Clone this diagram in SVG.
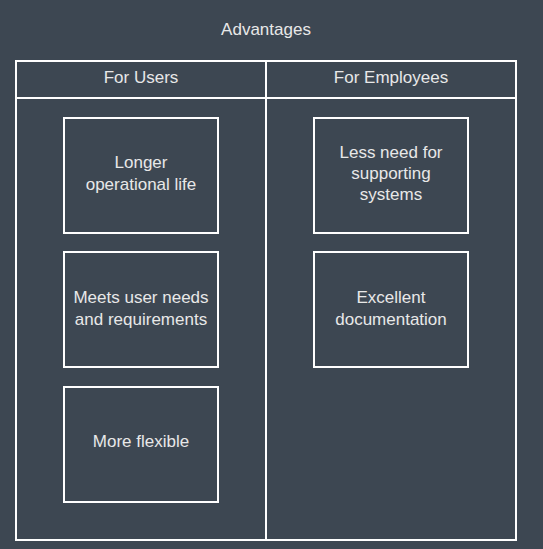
<svg xmlns="http://www.w3.org/2000/svg" width="543" height="549" viewBox="0 0 543 549">
<style>
.ln{fill:none;stroke:#ffffff;stroke-width:2}
.t{font-family:"Liberation Sans",Arial,sans-serif;font-size:17px;fill:#e8e8e8;text-anchor:middle;dominant-baseline:central}
</style>
<rect x="0" y="0" width="543" height="549" fill="#3d4752"/>
<g id="title"><text class="t" x="266" y="29">Advantages</text></g>
<g id="table">
<rect class="ln" x="16" y="61" width="500" height="479"/>
<line class="ln" x1="16" y1="98" x2="516" y2="98"/>
<line class="ln" x1="266" y1="61" x2="266" y2="540"/>
<text class="t" x="141" y="77">For Users</text>
<text class="t" x="391" y="77">For Employees</text>
</g>
<g id="n1"><rect class="ln" x="64" y="118" width="154" height="115"/><text class="t" x="141" y="162">Longer</text><text class="t" x="141" y="184">operational life</text></g>
<g id="n2"><rect class="ln" x="64" y="252" width="154" height="115"/><text class="t" x="141" y="297">Meets user needs</text><text class="t" x="141" y="319">and requirements</text></g>
<g id="n3"><rect class="ln" x="64" y="387" width="154" height="115"/><text class="t" x="141" y="441">More flexible</text></g>
<g id="n4"><rect class="ln" x="314" y="118" width="154" height="115"/><text class="t" x="391" y="152">Less need for</text><text class="t" x="391" y="173">supporting</text><text class="t" x="391" y="194">systems</text></g>
<g id="n5"><rect class="ln" x="314" y="252" width="154" height="115"/><text class="t" x="391" y="297">Excellent</text><text class="t" x="391" y="319">documentation</text></g>
<g id="connectors"></g>
</svg>
